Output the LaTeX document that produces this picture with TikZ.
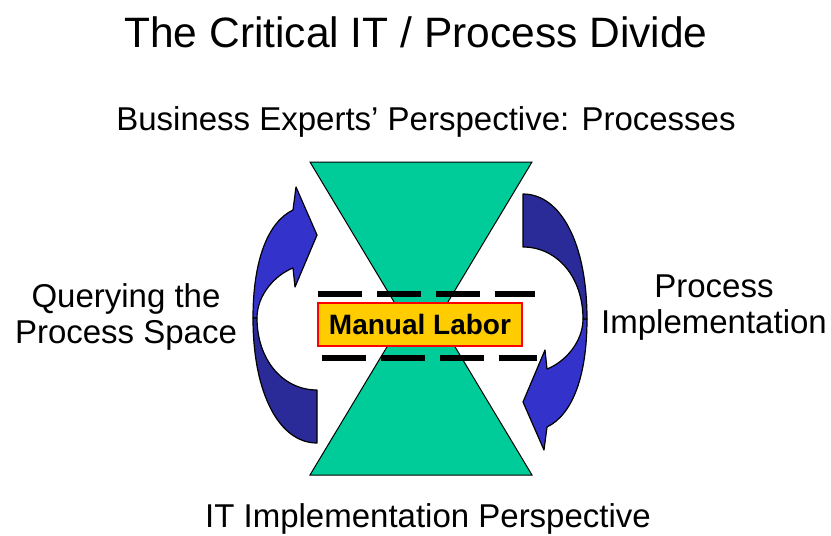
\documentclass[tikz,border=0pt]{standalone}
\usepackage{fontspec}
\setmainfont{Liberation Sans}
\definecolor{hgreen}{RGB}{0,204,153}
\definecolor{blight}{RGB}{51,51,204}
\definecolor{bdark}{RGB}{42,42,153}
\definecolor{gold}{RGB}{255,204,0}
\tikzset{
  lbl/.style={inner sep=0pt, align=center, font=\fontsize{33}{36}\selectfont},
  ttl/.style={inner sep=0pt, font=\fontsize{42.5}{48}\selectfont},
  hourglass/.style={draw=black, line width=1pt, fill=hgreen},
  dashline/.style={draw=black, line width=6pt, dash pattern=on 44pt off 15pt},
  labor/.style={draw=red, line width=1.5pt, fill=gold, minimum width=204pt, minimum height=43pt, inner sep=0pt, font=\fontsize{28}{30}\selectfont\bfseries},
  arrowpart/.style={draw=black, line width=1.2pt, line join=round},
  curvarrow/.pic={
    \draw[arrowpart, fill=blight] (253,318) .. controls (253,260) and (268,222) .. (293,210)
      -- (296,187) -- (317,235) -- (295,287) -- (293,268)
      .. controls (275,275) and (257,295) .. (257,318) -- cycle;
    \draw[arrowpart, fill=bdark] (253,318) .. controls (253,395) and (280,443) .. (317,443)
      -- (317,390) .. controls (283,390) and (257,360) .. (257,318) -- cycle;
  }
}
\begin{document}
\begin{tikzpicture}[x=1pt,y=-1pt]
\useasboundingbox (0,0) rectangle (831,536);
% titles
\node[ttl, anchor=base] (title) at (416,47) {The Critical IT / Process Divide};
\node[lbl, anchor=base] (business) at (426,130) {Business Experts’ Perspective: Processes};
\node[lbl, anchor=base] (itimpl) at (428,527) {IT Implementation Perspective};
\node[lbl, anchor=base] (query) at (126,343) {Querying the\\Process Space};
\node[lbl, anchor=base] (procimpl) at (714,333) {Process\\Implementation};
% hourglass
\draw[hourglass] (310,162) -- (532,162) -- (438,318.5) -- (532,475) -- (310,475) -- (404,318.5) -- cycle;
% arrows
\pic (leftarrow) at (0,0) {curvarrow};
\pic[rotate=180] (rightarrow) at (840,637) {curvarrow};
% dashed lines
\draw[dashline] (318,294) -- (535,294);
\draw[dashline] (322,358) -- (537,358);
% manual labor
\node[labor] (manual) at (420,324.5) {Manual Labor};
\end{tikzpicture}
\end{document}
